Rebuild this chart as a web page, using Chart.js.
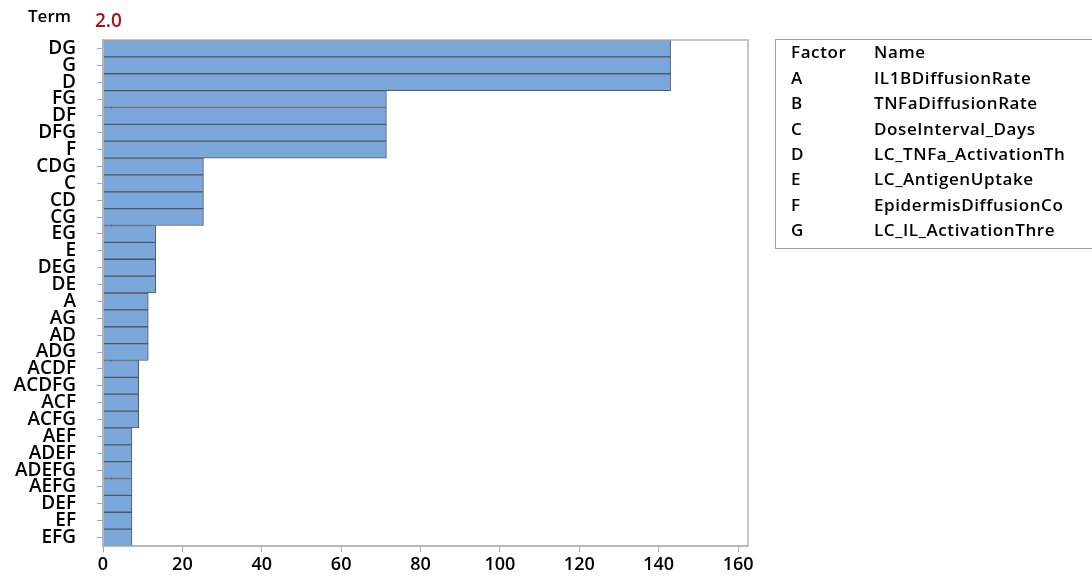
<!DOCTYPE html>
<html>
<head>
<meta charset="utf-8">
<script src="https://cdn.jsdelivr.net/npm/chart.js@4.4.1/dist/chart.umd.min.js"></script>
<style>
  html,body{margin:0;padding:0;background:#fff;}
  #wrap{position:relative;width:1092px;height:581px;}
</style>
</head>
<body>
<div id="wrap"><canvas id="pareto" width="1092" height="581"></canvas></div>
<script>
// ----- data -----
const terms = ["DG","G","D","FG","DF","DFG","F","CDG","C","CD","CG","EG","E","DEG","DE",
  "A","AG","AD","ADG","ACDF","ACDFG","ACF","ACFG","AEF","ADEF","ADEFG","AEFG","DEF","EF","EFG"];
const effects = [143,143,143,71.4,71.4,71.4,71.4,25.3,25.3,25.3,25.3,13.3,13.3,13.3,13.3,
  11.4,11.4,11.4,11.4,9.0,9.0,9.0,9.0,7.3,7.3,7.3,7.3,7.3,7.3,7.3];
const refLine = 2.0;
const xTicks = [0,20,40,60,80,100,120,140,160];
const factorCodes = ["A","B","C","D","E","F","G"];
const factorNames = ["IL1BDiffusionRate","TNFaDiffusionRate","DoseInterval_Days",
  "LC_TNFa_ActivationTh","LC_AntigenUptake","EpidermisDiffusionCo","LC_IL_ActivationThre"];

const FONT = "'Open Sans', 'Noto Sans', sans-serif";

// frame, reference line and header text
const extras = {
  id: "extras",
  beforeDatasetsDraw(chart){
    const {ctx, chartArea:a, scales:{x}} = chart;
    const rx = Math.round(x.getPixelForValue(refLine)) + 0.5;
    ctx.save();
    ctx.strokeStyle = "#d01c1c"; ctx.lineWidth = 1;
    ctx.beginPath(); ctx.moveTo(rx, a.top); ctx.lineTo(rx, a.bottom); ctx.stroke();
    ctx.restore();
  },
  afterDraw(chart){
    const {ctx, chartArea:a, scales:{x}} = chart;
    ctx.save();
    ctx.strokeStyle = "#b4b4b4"; ctx.lineWidth = 1.5;
    ctx.strokeRect(a.left, a.top, a.right-a.left, a.bottom-a.top);

    ctx.textBaseline = "middle";
    ctx.font = "600 17px " + FONT;
    ctx.fillStyle = "#000"; ctx.textAlign = "left";
    ctx.fillText("Term", 28, 17);
    ctx.fillStyle = "#a3161f";
    ctx.font = "600 19px " + FONT;
    ctx.fillText(refLine.toFixed(1), 95, 22);

    // factor key
    ctx.strokeStyle = "#a0a0a0"; ctx.lineWidth = 1;
    ctx.strokeRect(775.5, 39.5, 330, 209);
    ctx.fillStyle = "#000"; ctx.textAlign = "left";
    ctx.font = "600 17px " + FONT;
    ctx.letterSpacing = "0.6px";
    ctx.fillText("Factor", 791, 53);
    ctx.fillText("Name", 874, 53);
    factorCodes.forEach((c,i)=>{
      const y = 79 + i*25.4;
      ctx.fillText(c, 791, y);
      ctx.fillText(factorNames[i], 874, y);
    });
    ctx.restore();
  }
};

new Chart(document.getElementById("pareto"), {
  type: "bar",
  data: {
    labels: terms,
    datasets: [{
      data: effects,
      backgroundColor: "#7ba7db",
      borderColor: "#505860",
      borderWidth: 1,
      borderSkipped: "left",
      barPercentage: 1,
      categoryPercentage: 1
    }]
  },
  options: {
    indexAxis: "y",
    responsive: false,
    animation: false,
    layout: { padding: { top: 40, right: 344, left: 0, bottom: 0 } },
    plugins: { legend: { display: false }, tooltip: { enabled: false } },
    scales: {
      x: {
        min: 0, max: 162.5,
        afterBuildTicks: (s)=>{ s.ticks = xTicks.map(v=>({value:v})); },
        afterFit: (s)=>{ s.height = 35; },
        grid: { drawOnChartArea: false, drawTicks: true, tickLength: 6, color: "#a8a8a8" },
        border: { display: true, color: "#b4b4b4", width: 1.5 },
        ticks: { color: "#000", font: { family: FONT, size: 18, weight: "600" }, padding: 2, maxRotation: 0 }
      },
      y: {
        afterFit: (s)=>{ s.width = 103; },
        grid: { drawOnChartArea: false, drawTicks: true, tickLength: 6, offset: false, color: "#a8a8a8" },
        border: { display: true, color: "#b4b4b4", width: 1.5 },
        ticks: { color: "#000", font: { family: FONT, size: 19, weight: "600" }, padding: 21, autoSkip: false }
      }
    }
  },
  plugins: [extras]
});
</script>
</body>
</html>
